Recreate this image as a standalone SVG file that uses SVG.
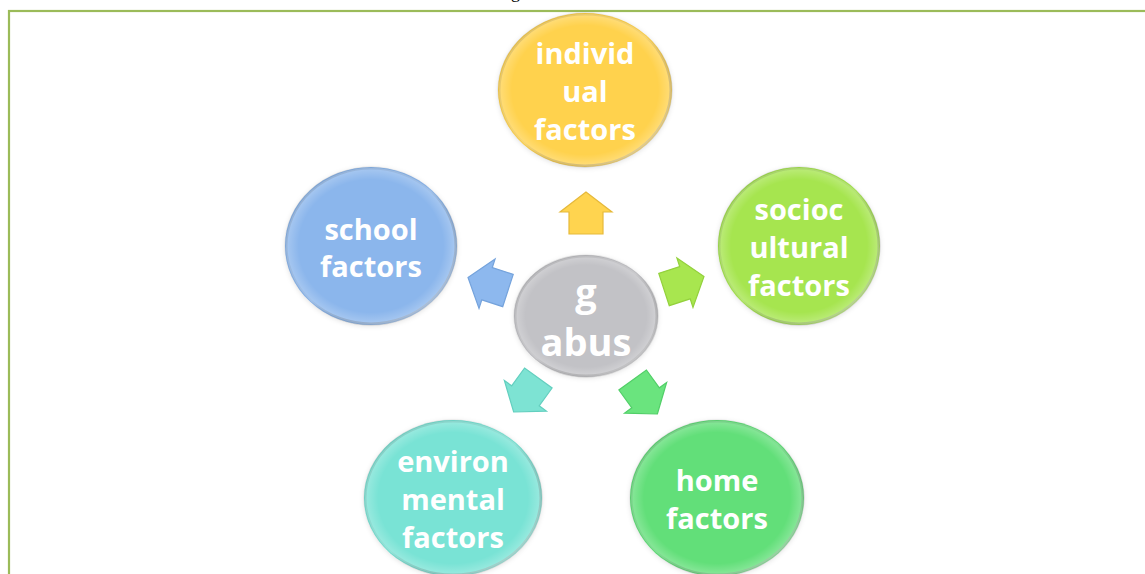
<svg xmlns="http://www.w3.org/2000/svg" width="1145" height="574" viewBox="0 0 1145 574">
  <defs>
    <style>
      .lbl { font-family: "Open Sans", "Noto Sans", sans-serif; font-weight: 700; font-size: 29px; fill: #ffffff; text-anchor: middle; }
      .core { font-size: 38px; }
      .bubble { filter: url(#soft); }
      .arrow { stroke-width: 1.2; stroke-linejoin: miter; }
    </style>
    <filter id="soft" x="-10%" y="-10%" width="120%" height="120%">
      <feGaussianBlur in="SourceAlpha" stdDeviation="2.5" result="b"/>
      <feOffset in="b" dx="0" dy="1" result="o"/>
      <feFlood flood-color="#000" flood-opacity="0.12"/>
      <feComposite in2="o" operator="in" result="s"/>
      <feMerge><feMergeNode in="s"/><feMergeNode in="SourceGraphic"/></feMerge>
    </filter>
    <linearGradient id="rim" x1="0" y1="0" x2="1" y2="1">
      <stop offset="0" stop-color="#000" stop-opacity="0.14"/>
      <stop offset="0.5" stop-color="#000" stop-opacity="0.03"/>
      <stop offset="1" stop-color="#fff" stop-opacity="0.6"/>
    </linearGradient>
    <radialGradient id="shine" cx="0.5" cy="0.5" r="0.5">
      <stop offset="0.85" stop-color="#fff" stop-opacity="0"/>
      <stop offset="1" stop-color="#fff" stop-opacity="0.25"/>
    </radialGradient>
    <!-- block arrow pointing along +x, centred on the origin -->
    <path id="blk" d="M21,0 L1,-26 L1,-17 L-21,-17 L-21,17 L1,17 L1,26 Z"/>
  </defs>

  <rect width="1145" height="574" fill="#ffffff"/>

  <!-- caption descender cut off at the top -->
  <text x="511" y="-2" font-family="Liberation Serif, serif" font-size="18" fill="#000">g</text>

  <!-- page frame -->
  <rect x="9" y="11" width="1160" height="600" fill="none" stroke="#9bbb59" stroke-width="2.2"/>

  <!-- arrows from the centre to each factor -->
  <g id="connectors">
    <use href="#blk" class="arrow" fill="#ffd44f" stroke="#e6b93a" transform="translate(586,213) rotate(-90)"/>
    <use href="#blk" class="arrow" fill="#a8e64f" stroke="#93d13c" transform="translate(684,283) rotate(-18)"/>
    <use href="#blk" class="arrow" fill="#6ae47e" stroke="#52cf68" transform="translate(645,397) rotate(54)"/>
    <use href="#blk" class="arrow" fill="#7de3d3" stroke="#63cfbf" transform="translate(526,395) rotate(126)"/>
    <use href="#blk" class="arrow" fill="#8db8ee" stroke="#75a3dc" transform="translate(488,284) rotate(198)"/>
  </g>

  <g id="node-individual">
    <ellipse class="bubble" cx="585" cy="90" rx="87" ry="77" fill="#ffd24e"/>
    <ellipse cx="585" cy="90" rx="86" ry="76" fill="url(#shine)" stroke="url(#rim)" stroke-width="3"/>
    <text class="lbl" x="585" y="64">individ</text>
    <text class="lbl" x="585" y="102">ual</text>
    <text class="lbl" x="585" y="140">factors</text>
  </g>

  <g id="node-sociocultural">
    <ellipse class="bubble" cx="799" cy="246" rx="81" ry="79" fill="#a6e550"/>
    <ellipse cx="799" cy="246" rx="80" ry="78" fill="url(#shine)" stroke="url(#rim)" stroke-width="3"/>
    <text class="lbl" x="799" y="220">socioc</text>
    <text class="lbl" x="799" y="258">ultural</text>
    <text class="lbl" x="799" y="296">factors</text>
  </g>

  <g id="node-home">
    <ellipse class="bubble" cx="717" cy="498" rx="87" ry="78" fill="#62df79"/>
    <ellipse cx="717" cy="498" rx="86" ry="77" fill="url(#shine)" stroke="url(#rim)" stroke-width="3"/>
    <text class="lbl" x="717" y="491">home</text>
    <text class="lbl" x="717" y="529">factors</text>
  </g>

  <g id="node-environmental">
    <ellipse class="bubble" cx="453" cy="498" rx="89" ry="78" fill="#79e3d5"/>
    <ellipse cx="453" cy="498" rx="88" ry="77" fill="url(#shine)" stroke="url(#rim)" stroke-width="3"/>
    <text class="lbl" x="453" y="472">environ</text>
    <text class="lbl" x="453" y="510">mental</text>
    <text class="lbl" x="453" y="548">factors</text>
  </g>

  <g id="node-school">
    <ellipse class="bubble" cx="371" cy="246" rx="86" ry="79" fill="#8bb6ec"/>
    <ellipse cx="371" cy="246" rx="85" ry="78" fill="url(#shine)" stroke="url(#rim)" stroke-width="3"/>
    <text class="lbl" x="371" y="240">school</text>
    <text class="lbl" x="371" y="277">factors</text>
  </g>

  <g id="node-centre">
    <ellipse class="bubble" cx="586" cy="316" rx="72" ry="61" fill="#c2c2c6"/>
    <ellipse cx="586" cy="316" rx="71" ry="60" fill="url(#shine)" stroke="url(#rim)" stroke-width="3"/>
    <text class="lbl core" x="586" y="306">g</text>
    <text class="lbl core" x="586" y="356">abus</text>
  </g>
</svg>
